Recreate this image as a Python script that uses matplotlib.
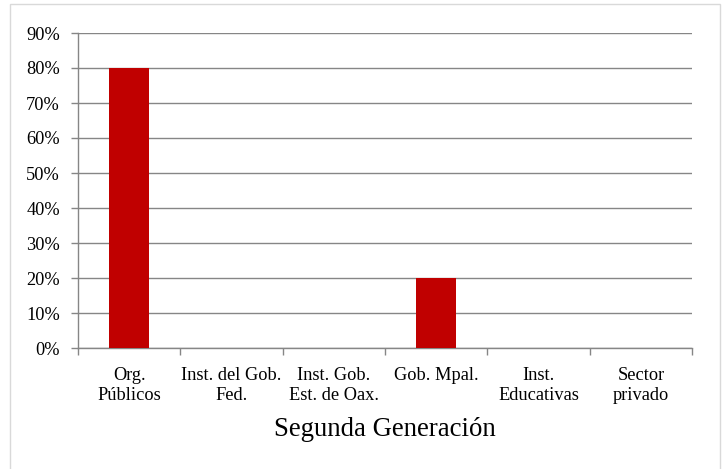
import matplotlib

matplotlib.use("Agg")

import matplotlib.pyplot as plt
from matplotlib.patches import Rectangle
from matplotlib.ticker import FuncFormatter, MultipleLocator

CATEGORIES = [
    "Org.\nPúblicos",
    "Inst. del Gob.\nFed.",
    "Inst. Gob.\nEst. de Oax.",
    "Gob. Mpal.",
    "Inst.\nEducativas",
    "Sector\nprivado",
]
VALUES = [0.80, 0.0, 0.0, 0.20, 0.0, 0.0]
TITLE = "Segunda Generación"

BAR_COLOR = "#C00000"
AXIS_GRAY = "#868686"

plt.rcParams["font.family"] = ["Liberation Serif", "DejaVu Serif"]

fig = plt.figure(figsize=(7.24, 4.69), dpi=100)
W, H = 724, 469
ax = fig.add_axes([78 / W, 1 - 348 / H, (692 - 78) / W, (348 - 33) / H])

x = range(len(CATEGORIES))
ax.bar(x, VALUES, width=0.39, color=BAR_COLOR, zorder=3)

ax.set_xlim(-0.5, len(CATEGORIES) - 0.5)
ax.set_ylim(0, 0.9)
ax.yaxis.set_major_locator(MultipleLocator(0.1))
ax.yaxis.set_major_formatter(FuncFormatter(lambda v, _: f"{v * 100:.0f}%"))
ax.grid(axis="y", color=AXIS_GRAY, linewidth=1.0, zorder=0)

ax.set_xticks([i - 0.5 for i in range(len(CATEGORIES) + 1)])
ax.set_xticklabels([])
ax.set_xticks(list(x), minor=True)
ax.set_xticklabels(CATEGORIES, minor=True, fontsize=13.2, linespacing=1.22)
ax.tick_params(axis="x", which="minor", length=0, pad=14)
ax.tick_params(axis="x", which="major", length=5, color=AXIS_GRAY, width=1)
ax.tick_params(axis="y", length=5, color=AXIS_GRAY, width=1, labelsize=13.2, pad=8)

for side in ("top", "right"):
    ax.spines[side].set_visible(False)
for side in ("left", "bottom"):
    ax.spines[side].set_color(AXIS_GRAY)
    ax.spines[side].set_linewidth(1.0)

fig.text(385 / W, 1 - 436 / H, TITLE, ha="center", va="baseline", fontsize=19.3)

fig.patches.append(
    Rectangle((10 / W, -10 / H), (720 - 10) / W, (465 + 10) / H,
              transform=fig.transFigure, fill=False, edgecolor="#D9D9D9", linewidth=1.0)
)

fig.savefig("out.png", dpi=100)
